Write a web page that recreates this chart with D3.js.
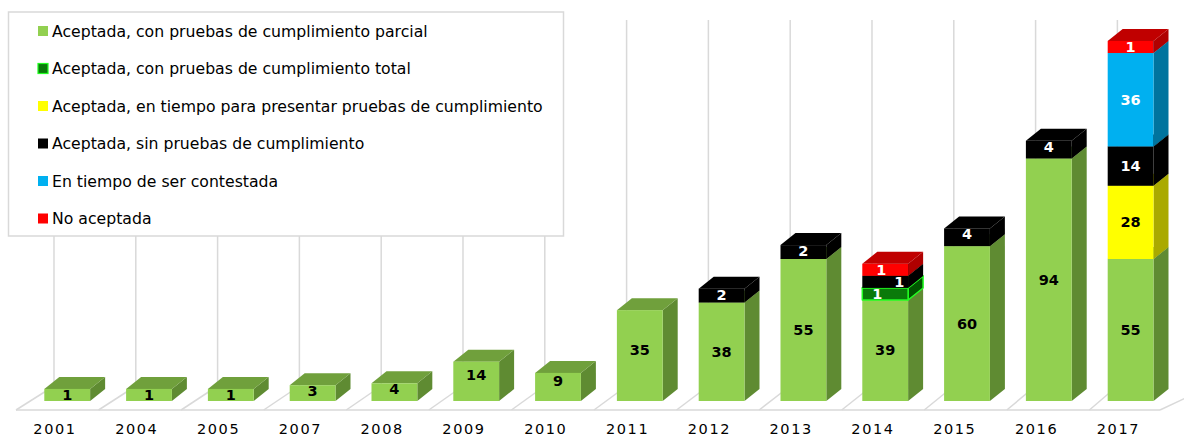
<!DOCTYPE html>
<html>
<head>
<meta charset="utf-8">
<title>Recomendaciones por año</title>
<script src="https://cdn.jsdelivr.net/npm/d3@7"></script>
<style>
  body { margin: 0; background: #fff; }
  svg { display: block; font-family: "DejaVu Sans", Verdana, sans-serif; }
</style>
</head>
<body>
<svg id="chart"></svg>
<script>
const WIDTH = 1184;
const HEIGHT = 438;

// data
const years = ["2001","2004","2005","2007","2008","2009","2010","2011","2012","2013","2014","2015","2016","2017"];
const parcial       = [1, 1, 1, 3, 4, 14, 9, 35, 38, 55, 39, 60, 94, 55];
const total         = [0, 0, 0, 0, 0, 0, 0, 0, 0, 0, 1, 0, 0, 0];
const tiempoPruebas = [0, 0, 0, 0, 0, 0, 0, 0, 0, 0, 0, 0, 0, 28];
const sinPruebas    = [0, 0, 0, 0, 0, 0, 0, 0, 2, 2, 1, 4, 4, 14];
const contestada    = [0, 0, 0, 0, 0, 0, 0, 0, 0, 0, 0, 0, 0, 36];
const noAceptada    = [0, 0, 0, 0, 0, 0, 0, 0, 0, 0, 1, 0, 0, 1];
const seriesNames = [
    "Aceptada, con pruebas de cumplimiento parcial",
    "Aceptada, con pruebas de cumplimiento total",
    "Aceptada, en tiempo para presentar pruebas de cumplimiento",
    "Aceptada, sin pruebas de cumplimiento",
    "En tiempo de ser contestada",
    "No aceptada"
];

const series = [
    {name: seriesNames[0], values: parcial,       front: "#92d050", side: "#5f8b32", top: "#70a03c", label: "#000"},
    {name: seriesNames[1], values: total,         front: "#0a7a0a", side: "#005400", top: "#086408", label: "#fff", stroke: "#22ff22"},
    {name: seriesNames[2], values: tiempoPruebas, front: "#ffff00", side: "#aaaa00", top: "#cccc00", label: "#000"},
    {name: seriesNames[3], values: sinPruebas,    front: "#000000", side: "#000000", top: "#000000", label: "#fff"},
    {name: seriesNames[4], values: contestada,    front: "#00b0f0", side: "#00749e", top: "#0090c4", label: "#fff"},
    {name: seriesNames[5], values: noAceptada,    front: "#ff0000", side: "#b00000", top: "#c00000", label: "#fff"}
];

// 3D look
const FLOOR = 401;       // bottom of the bar fronts
const DX = 15, DY = 12;  // depth offset of the boxes
const FLOOR_BACK = 386, FLOOR_FRONT = 410;

// small blocks are drawn a bit taller than their value, as in the original
function blockSize(v) {
    return v + 4 * Math.exp(-v / 12);
}

var svg = d3.select("#chart")
    .attr("width", WIDTH)
    .attr("height", HEIGHT);

var x = d3.scaleBand()
    .domain(years)
    .range([26.3, 26.3 + 81.8 * years.length])
    .paddingInner(0.44)
    .paddingOuter(0.22);

var y = d3.scaleLinear()
    .domain([0, 150])
    .range([FLOOR, FLOOR - 150 * 2.58]);

var w = x.bandwidth();
var gridX = d => x(d) + 9.7;

// back wall gridlines and floor
var grid = svg.append("g")
    .attr("stroke", "#d9d9d9")
    .attr("stroke-width", 1.5)
    .attr("fill", "none");

grid.selectAll("line.v")
    .data(years)
    .enter()
    .append("line")
    .attr("class", "v")
    .attr("x1", gridX).attr("x2", gridX)
    .attr("y1", 20).attr("y2", FLOOR_BACK);

grid.selectAll("line.d")
    .data(years)
    .enter()
    .append("line")
    .attr("class", "d")
    .attr("x1", gridX)
    .attr("y1", FLOOR_BACK)
    .attr("x2", (d, i) => gridX(d) - (38 - 10 * i / (years.length - 1)))
    .attr("y2", FLOOR_FRONT);

grid.append("line")
    .attr("x1", gridX(years[0]) - 38).attr("x2", 1160)
    .attr("y1", FLOOR_FRONT).attr("y2", FLOOR_FRONT);

grid.append("line")
    .attr("x1", 1160).attr("y1", FLOOR_FRONT)
    .attr("x2", 1192).attr("y2", FLOOR_FRONT - 15);

// stack the blocks
var blocks = [];
years.forEach(function(yr, i) {
    var cum = 0;
    var yearBlocks = [];
    series.forEach(function(s) {
        var v = s.values[i];
        if (v > 0) {
            var size = blockSize(v);
            yearBlocks.push({year: yr, s: s, v: v, y0: cum, y1: cum + size, top: false, nudge: 0});
            cum += size;
        }
    });
    yearBlocks[yearBlocks.length - 1].top = true;
    // thin blocks stacked on each other: stagger their labels so they don't collide
    var run = 0;
    yearBlocks.forEach(function(b, j) {
        var thin = y(b.y0) - y(b.y1) < 16;
        var prevThin = j > 0 && y(yearBlocks[j - 1].y0) - y(yearBlocks[j - 1].y1) < 16;
        if (thin && (prevThin || (yearBlocks[j + 1] && y(yearBlocks[j + 1].y0) - y(yearBlocks[j + 1].y1) < 16))) {
            b.nudge = run % 2 === 0 ? -8 + run * 2 : 14;
            run++;
        }
    });
    blocks = blocks.concat(yearBlocks);
});

var bars = svg.append("g");

var block = bars.selectAll("g.block")
    .data(blocks)
    .enter()
    .append("g")
    .attr("class", "block")
    .attr("stroke", d => d.s.stroke || "none")
    .attr("stroke-width", d => d.s.stroke ? 1.5 : 0)
    .attr("stroke-linejoin", "round");

block.append("polygon")
    .attr("fill", d => d.s.side)
    .attr("points", function(d) {
        var x1 = x(d.year) + w, b = y(d.y0), t = y(d.y1);
        return [[x1, b], [x1 + DX, b - DY], [x1 + DX, t - DY], [x1, t]].join(" ");
    });

block.append("polygon")
    .attr("fill", d => d.s.top)
    .attr("points", function(d) {
        var x0 = x(d.year), t = y(d.y1);
        return [[x0, t], [x0 + DX, t - DY], [x0 + w + DX, t - DY], [x0 + w, t]].join(" ");
    });

block.append("rect")
    .attr("fill", d => d.s.front)
    .attr("x", d => x(d.year))
    .attr("y", d => y(d.y1))
    .attr("width", w)
    .attr("height", d => y(d.y0) - y(d.y1));

// value labels
bars.selectAll("text.value")
    .data(blocks)
    .enter()
    .append("text")
    .attr("class", "value")
    .attr("x", d => x(d.year) + w / 2 + d.nudge)
    .attr("y", function(d) {
        var h = y(d.y0) - y(d.y1);
        var mid = (y(d.y0) + y(d.y1)) / 2;
        if (d.top) mid -= Math.max(0, Math.min(6, (h - 12) / 2));
        return mid;
    })
    .attr("text-anchor", "middle")
    .attr("dominant-baseline", "central")
    .attr("font-size", "14.5px")
    .attr("font-weight", "bold")
    .attr("fill", d => d.s.label)
    .text(d => d.v);

// category axis
var axis = svg.append("g")
    .attr("transform", "translate(" + (9.7 + 1 - w / 2) + "," + 424 + ")")
    .call(d3.axisBottom(x).tickSize(0).tickPadding(0));
axis.select(".domain").remove();
axis.selectAll("text")
    .attr("font-family", "DejaVu Sans, sans-serif")
    .attr("font-size", "14.5px")
    .attr("letter-spacing", "1.6px")
    .attr("fill", "#000")
    .attr("dy", "0.7em");

// legend
var legend = svg.append("g");
legend.append("rect")
    .attr("x", 8.5).attr("y", 12)
    .attr("width", 555).attr("height", 224)
    .attr("fill", "#fff")
    .attr("stroke", "#d9d9d9")
    .attr("stroke-width", 1.5);

var item = legend.selectAll("g.item")
    .data(series)
    .enter()
    .append("g")
    .attr("class", "item")
    .attr("transform", (d, i) => "translate(38," + (31 + 37.5 * i) + ")");

item.append("rect")
    .attr("x", 0).attr("y", -5)
    .attr("width", 10).attr("height", 10)
    .attr("fill", d => d.front)
    .attr("stroke", d => d.stroke || "none")
    .attr("stroke-width", 1.2);

item.append("text")
    .attr("x", 14)
    .attr("dominant-baseline", "central")
    .attr("font-size", "15.7px")
    .attr("fill", "#000")
    .text(d => d.name);
</script>
</body>
</html>
